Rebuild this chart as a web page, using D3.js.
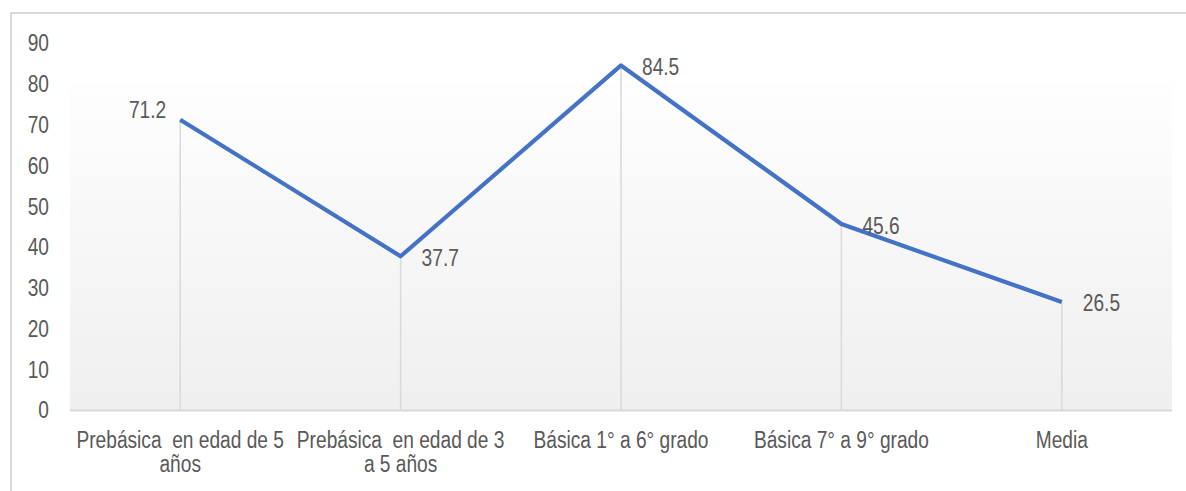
<!DOCTYPE html>
<html><head><meta charset="utf-8">
<script src="https://cdn.jsdelivr.net/npm/d3@7"></script>
<style>
html,body{margin:0;padding:0;background:#fff;}
svg{display:block;font-family:"Liberation Sans Narrow","Arial Narrow","Liberation Sans",Arial,sans-serif;}
</style></head>
<body><svg id="c" width="1186" height="491"></svg>
<script>
const categories = [["Prebásica  en edad de 5","años"],["Prebásica  en edad de 3","a 5 años"],["Básica 1° a 6° grado"],["Básica 7° a 9° grado"],["Media"]];
const values = [71.2, 37.7, 84.5, 45.6, 26.5];
const labelSide = ["left","right","right","right","right"];
const yTicks = [0,10,20,30,40,50,60,70,80,90];

const FS = 23.5, SX = 0.815, TXT = "#595959";
const svg = d3.select("#c");
const L = 70, R = 1172, T = 43, B = 410;
const x = d3.scaleBand().domain(d3.range(values.length)).range([L, R]);
const y = d3.scaleLinear().domain([0, 90]).range([B, T]);

// outer frame
svg.append("rect").attr("x",11).attr("y",13).attr("width",1200).attr("height",500)
  .attr("fill","none").attr("stroke","#d9d9d9").attr("stroke-width",2);

// gradient background
const defs = svg.append("defs");
const g = defs.append("linearGradient").attr("id","bg").attr("x1",0).attr("y1",0).attr("x2",0).attr("y2",1);
g.append("stop").attr("offset","0%").attr("stop-color","#fefefe");
g.append("stop").attr("offset","100%").attr("stop-color","#efefef");
svg.append("rect").attr("x",L).attr("y",83).attr("width",R-L).attr("height",B-83).attr("fill","url(#bg)");

// y axis labels
const yAxis = d3.axisLeft(y).tickValues(yTicks).tickSize(0).tickPadding(0);
const ya = svg.append("g").attr("transform","translate(49,0)").call(yAxis);
ya.select(".domain").remove();
ya.selectAll("text").attr("font-size",FS).attr("fill",TXT).attr("font-family",null)
  .attr("dy","0.34em")
  .attr("transform",`scale(${SX},1)`);

// drop lines
const cx = i => x(i) + x.bandwidth()/2;
svg.append("g").selectAll("line").data(values).join("line")
  .attr("x1",(d,i)=>cx(i)).attr("x2",(d,i)=>cx(i))
  .attr("y1",d=>y(d)).attr("y2",B)
  .attr("stroke","#d9d9d9").attr("stroke-width",1.5);

// baseline
svg.append("line").attr("x1",L).attr("x2",R).attr("y1",B+0.5).attr("y2",B+0.5)
  .attr("stroke","#d9d9d9").attr("stroke-width",2);

// line
const line = d3.line().x((d,i)=>cx(i)).y(d=>y(d));
svg.append("path").datum(values).attr("d",line).attr("fill","none")
  .attr("stroke","#4472c4").attr("stroke-width",4.2).attr("stroke-linejoin","round");

// data labels
svg.append("g").selectAll("text").data(values).join("text")
  .attr("transform",(d,i)=>{
    const tx = labelSide[i]==="left" ? cx(i)-14 : cx(i)+21;
    const ty = y(d) + (labelSide[i]==="left" ? -2 : 9.5);
    return `translate(${tx},${ty}) scale(${SX},1)`;
  })
  .attr("text-anchor",(d,i)=> labelSide[i]==="left" ? "end" : "start")
  .attr("font-size",FS).attr("fill",TXT)
  .text(d=>d.toFixed(1));

// category labels
const cg = svg.append("g");
categories.forEach((lines,i)=>{
  const t = cg.append("text").attr("transform",`translate(${cx(i)},448) scale(${SX},1)`)
    .attr("text-anchor","middle")
    .attr("font-size",FS).attr("fill",TXT).attr("xml:space","preserve");
  lines.forEach((s,j)=>{
    t.append("tspan").attr("x",0).attr("dy", j===0?0:24).text(s);
  });
});
</script></body></html>
